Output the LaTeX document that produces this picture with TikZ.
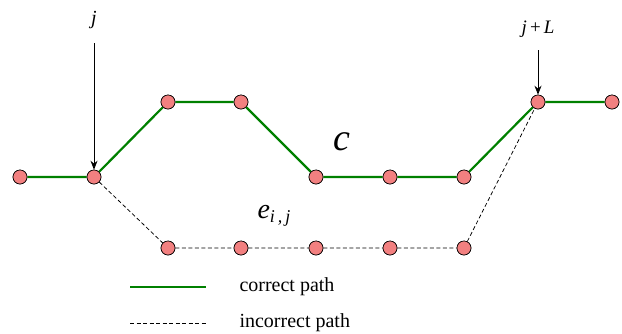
\documentclass[tikz,border=0pt]{standalone}
\usepackage{fontspec}
\setmainfont{Liberation Serif}
\usetikzlibrary{arrows.meta}
\begin{document}
\begin{tikzpicture}[x=1pt,y=-1pt,
  vtx/.style={circle,draw=black,fill={rgb,255:red,242;green,128;blue,128},inner sep=0pt,minimum size=14pt,line width=0.6pt},
  good/.style={draw={rgb,255:red,0;green,128;blue,0},line width=2.2pt},
  bad/.style={draw=black,line width=0.75pt,dash pattern=on 4pt off 2.5pt},
  pointer/.style={draw=black,line width=0.8pt,-{Stealth[length=9pt,width=7pt]}},
  lbl/.style={font=\fontsize{20}{22}\selectfont,anchor=west}]
\useasboundingbox (0,0) rectangle (622,333);
% vertices
\node[vtx] (m1) at (20,177) {};
\node[vtx] (m2) at (94,177) {};
\node[vtx] (t3) at (168,102) {};
\node[vtx] (t4) at (241,102) {};
\node[vtx] (m5) at (316,177) {};
\node[vtx] (m6) at (390,177) {};
\node[vtx] (m7) at (464,177) {};
\node[vtx] (t8) at (538,102) {};
\node[vtx] (t9) at (612,102) {};
\node[vtx] (b3) at (168,248) {};
\node[vtx] (b4) at (241,248) {};
\node[vtx] (b5) at (316,248) {};
\node[vtx] (b6) at (390,248) {};
\node[vtx] (b7) at (464,248) {};
% paths
\draw[bad] (m2) -- (b3) -- (b4) -- (b5) -- (b6) -- (b7) -- (t8);
\draw[good] (m1) -- (m2) -- (t3) -- (t4) -- (m5) -- (m6) -- (m7) -- (t8) -- (t9);
% redraw vertices on top
\foreach \n in {m1,m2,t3,t4,m5,m6,m7,t8,t9,b3,b4,b5,b6,b7}
  \node[vtx] at (\n) {};
% labels and pointers
\node[font=\fontsize{20}{22}\selectfont\itshape] (jl) at (94,20) {j};
\coordinate (js) at (94,43);
\draw[pointer] (js) -- (m2.north);
\node[font=\fontsize{19}{21}\selectfont] (jL) at (538,29) {\textit{j}\,+\,\textit{L}};
\coordinate (jLs) at (538,50);
\draw[pointer] (jLs) -- (t8.north);
\node[font=\fontsize{38}{40}\selectfont\itshape] (c) at (342,142) {c};
\node[font=\fontsize{28}{30}\selectfont\itshape] (e) at (274,216) {e\raisebox{-0.35ex}{\fontsize{18}{20}\selectfont i\,,\,j}};
% legend
\coordinate (g1) at (130,287); \coordinate (g2) at (206,287);
\draw[good] (g1) -- (g2);
\node[lbl] (gt) at (236,287) {correct path};
\coordinate (d1) at (130,323); \coordinate (d2) at (206,323);
\draw[bad] (d1) -- (d2);
\node[lbl] (dt) at (236,323) {incorrect path};
\end{tikzpicture}
\end{document}
